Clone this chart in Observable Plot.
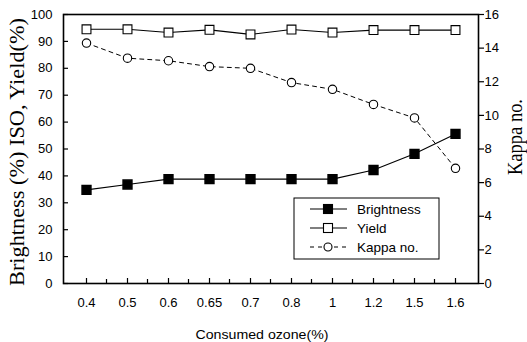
<!DOCTYPE html>
<html><head><meta charset="utf-8">
<script src="https://cdn.jsdelivr.net/npm/d3@7"></script>
<script src="https://cdn.jsdelivr.net/npm/@observablehq/plot@0.6"></script>
<style>body{margin:0;background:#fff}</style>
</head><body><div id="chart"></div>
<script>
const xLabels = ["0.4","0.5","0.6","0.65","0.7","0.8","1","1.2","1.5","1.6"];
const brightness = [34.8,36.8,38.8,38.8,38.8,38.8,38.8,42.2,48.2,55.6];
const yieldPct = [94.5,94.5,93.3,94.3,92.6,94.4,93.3,94.2,94.2,94.2];
const kappa = [14.3,13.4,13.25,12.9,12.8,11.95,11.55,10.65,9.85,6.85];
const leftTicks = [0,10,20,30,40,50,60,70,80,90,100];
const rightTicks = [0,2,4,6,8,10,12,14,16];
const seriesNames = ["Brightness","Yield","Kappa no."];
const leftTitle = "Brightness (%) ISO, Yield(%)";
const rightTitle = "Kappa no.";
const xTitle = "Consumed ozone(%)";

const K = 100/16; // kappa -> left scale
const rows = xLabels.map((x,i)=>({x, b: brightness[i], y: yieldPct[i], k: kappa[i]*K}));
const sans = "Liberation Sans, Arial, sans-serif";
const serif = "Liberation Serif, Times New Roman, serif";

const plot = Plot.plot({
  width: 527, height: 342,
  marginLeft: 63, marginRight: 49, marginTop: 14, marginBottom: 59,
  style: {fontFamily: sans, fontSize: "13px", color: "#000", background: "#fff"},
  x: {type: "point", domain: xLabels, padding: 0.5, label: null},
  y: {domain: [0,100], label: null},
  marks: [
    Plot.axisY({ticks: leftTicks, tickSize: 0, tickPadding: 11, fontSize: 13}),
    Plot.axisY({ticks: leftTicks, tickSize: -5, text: null, strokeWidth: 1.2}),
    Plot.axisY({anchor: "right", ticks: rightTicks.map(d=>d*K), tickFormat: d => String(Math.round(d/K)), tickSize: 5, tickPadding: 1, strokeWidth: 1.2, fontSize: 13}),
    Plot.axisX({tickSize: 0, tickPadding: 14, fontSize: 13}),
    Plot.axisX({tickSize: -5, text: null, strokeWidth: 1.2}),
    Plot.frame({stroke: "#000", strokeWidth: 1.6}),
    Plot.line(rows, {x: "x", y: "k", stroke: "#000", strokeWidth: 1, strokeDasharray: "4,4"}),
    Plot.line(rows, {x: "x", y: "y", stroke: "#000", strokeWidth: 1.1}),
    Plot.line(rows, {x: "x", y: "b", stroke: "#000", strokeWidth: 1.1}),
    Plot.dot(rows, {x: "x", y: "k", r: 4.2, symbol: "circle", fill: "#fff", stroke: "#000", strokeWidth: 1.1}),
    Plot.dot(rows, {x: "x", y: "y", r: 5, symbol: "square", fill: "#fff", stroke: "#000", strokeWidth: 1.1}),
    Plot.dot(rows, {x: "x", y: "b", r: 5, symbol: "square", fill: "#000", stroke: "#000"})
  ]
});

const svg = d3.select(plot);
const xs = plot.scale("x"), ys = plot.scale("y");
// minor x ticks between categories
const g = svg.append("g").attr("stroke", "#000").attr("stroke-width", 1.2);
const yb = ys.apply(0);
for (let i = 0; i < xLabels.length - 1; i++) {
  const mx = (xs.apply(xLabels[i]) + xs.apply(xLabels[i+1])) / 2;
  g.append("line").attr("x1", mx).attr("x2", mx).attr("y1", yb).attr("y2", yb - 4);
}
// titles
svg.append("text").attr("transform", `translate(24,152) rotate(-90)`)
  .attr("text-anchor", "middle").attr("font-family", serif).attr("font-size", 22)
  .attr("textLength", 268).attr("lengthAdjust", "spacingAndGlyphs").attr("fill", "#000").text(leftTitle);
svg.append("text").attr("transform", `translate(522,137) rotate(-90)`)
  .attr("text-anchor", "middle").attr("font-family", serif).attr("font-size", 22)
  .attr("textLength", 76).attr("lengthAdjust", "spacingAndGlyphs").attr("fill", "#000").text(rightTitle);
svg.append("text").attr("x", 262).attr("y", 339)
  .attr("text-anchor", "middle").attr("font-family", sans).attr("font-size", 13)
  .attr("textLength", 133).attr("lengthAdjust", "spacingAndGlyphs").attr("fill", "#000").text(xTitle);
// legend
const lg = svg.append("g").attr("transform", "translate(294,198)");
lg.append("rect").attr("width", 145).attr("height", 61).attr("fill", "#fff").attr("stroke", "#000").attr("stroke-width", 1);
seriesNames.forEach((name, i) => {
  const cy = 11 + i * 19;
  lg.append("line").attr("x1", 16).attr("x2", 53).attr("y1", cy).attr("y2", cy)
    .attr("stroke", "#000").attr("stroke-width", 1.1).attr("stroke-dasharray", i === 2 ? "4,4" : null);
  if (i === 2) lg.append("circle").attr("cx", 34).attr("cy", cy).attr("r", 4).attr("fill", "#fff").attr("stroke", "#000").attr("stroke-width", 1.1);
  else lg.append("rect").attr("x", 29.5).attr("y", cy - 4.5).attr("width", 9).attr("height", 9)
    .attr("fill", i === 0 ? "#000" : "#fff").attr("stroke", "#000").attr("stroke-width", 1.1);
  lg.append("text").attr("x", 63).attr("y", cy + 5).attr("text-anchor", "start").attr("font-family", sans).attr("font-size", 13.5).attr("fill", "#000").text(name);
});
document.getElementById("chart").append(plot);
</script></body></html>
